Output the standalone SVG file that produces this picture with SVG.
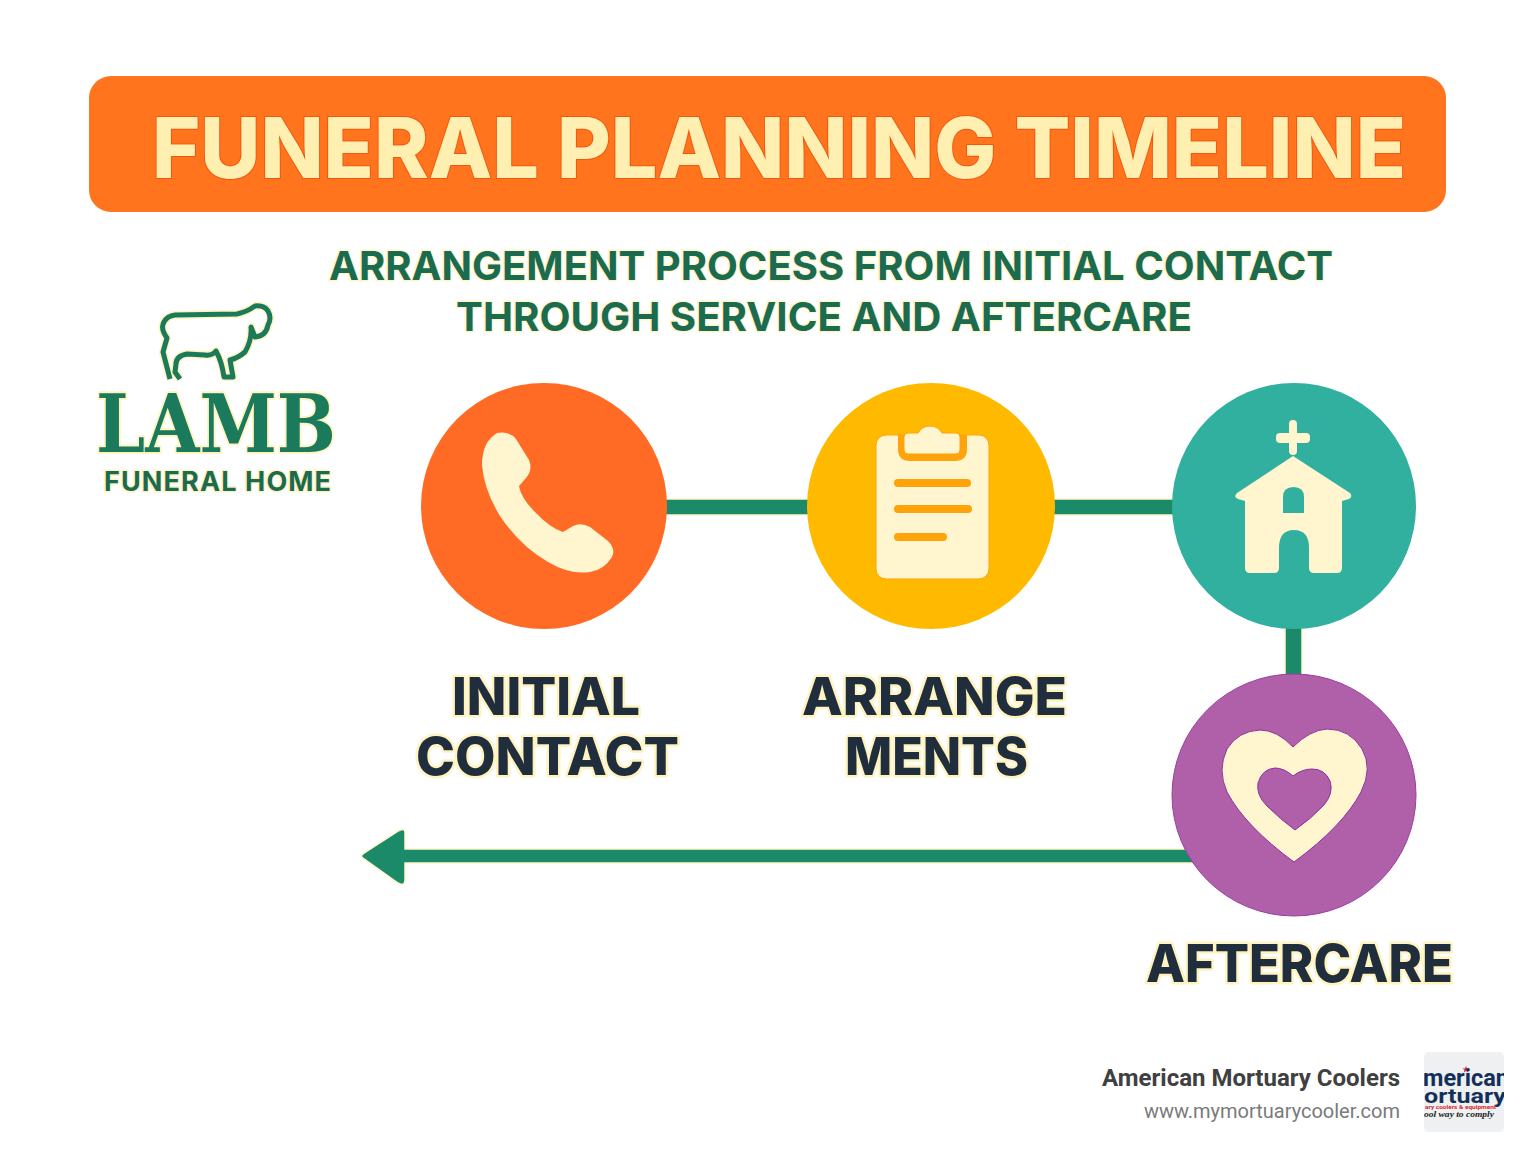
<svg xmlns="http://www.w3.org/2000/svg" width="1536" height="1154" viewBox="0 0 1536 1154">
<style>
text{paint-order:stroke fill;stroke-linejoin:round}
.title{font:800 84px Inter,"Noto Sans",sans-serif;fill:#FFEFB0;stroke:#F2560F;stroke-width:2}
.sub{font:700 40px Inter,"Noto Sans",sans-serif;fill:#1B6B50;stroke:#FFF6CC;stroke-width:3}
.label{font:800 52px Inter,"Noto Sans",sans-serif;fill:#1F2D3D;stroke:#FFF3BF;stroke-width:5}
.logo{fill:#1B7A5C;stroke:#FFF3BF;stroke-width:4}
.ic{fill:#FFF5CF}
.conn{fill:#1B8A68;stroke:#FFF6CC;stroke-width:1.5}
</style>
<defs><clipPath id="lc"><rect x="1424" y="1052" width="80" height="80" rx="5"/></clipPath></defs>
<g id="banner">
<rect x="89" y="76" width="1357" height="136" rx="22" fill="#FF741C"/>
<text class="title" x="152" y="178" textLength="1254" lengthAdjust="spacingAndGlyphs">FUNERAL PLANNING TIMELINE</text>
</g>
<g id="subtitle">
<text class="sub" x="329" y="280" textLength="1004" lengthAdjust="spacingAndGlyphs">ARRANGEMENT PROCESS FROM INITIAL CONTACT</text>
<text class="sub" x="456" y="331" textLength="736" lengthAdjust="spacingAndGlyphs">THROUGH SERVICE AND AFTERCARE</text>
</g>
<g id="logo">
<path d="M170 379L163 352Q165 345 167 338Q160 328 164 322Q167 316 175 315L237 314Q247 312 255 306Q264 305 268 311Q272 318 268 325Q266 336 255 337L251 327Q252 340 245 352Q238 358 230 360L233 377H224Q222 362 216 351Q212 356 205 355L187 354Q176 356 176 364L175 372L180 379" fill="none" stroke="#FFF3BF" stroke-width="8" stroke-linejoin="round"/>
<path d="M170 379L163 352Q165 345 167 338Q160 328 164 322Q167 316 175 315L237 314Q247 312 255 306Q264 305 268 311Q272 318 268 325Q266 336 255 337L251 327Q252 340 245 352Q238 358 230 360L233 377H224Q222 362 216 351Q212 356 205 355L187 354Q176 356 176 364L175 372L180 379" fill="none" stroke="#1B7A5C" stroke-width="5" stroke-linejoin="round"/>
<text class="logo" x="96" y="452" textLength="240" lengthAdjust="spacingAndGlyphs" style="font:700 81px 'DejaVu Serif',serif">LAMB</text>
<text class="logo" x="104" y="491" textLength="227" lengthAdjust="spacing" style="font:700 27px Inter,sans-serif;fill:#1B6B50;stroke-width:3">FUNERAL HOME</text>
</g>
<g id="connectors">
<rect class="conn" x="660" y="499" width="155" height="16"/>
<rect class="conn" x="1050" y="499" width="130" height="16"/>
<rect class="conn" x="1285" y="620" width="17" height="60"/>
<path class="conn" d="M1200 849H405V833Q405 827 398 831L364 853Q359 856 364 859L398 883Q405 887 405 880V863H1200Z"/>
</g>
<g id="node-initial-contact">
<circle cx="544" cy="506" r="123" fill="#FF6B24"/>
<path class="ic" d="M497 433Q510 431 516 439L529 460Q533 470 526 478L519 486Q521 498 535 512Q550 528 563 532L573 526Q581 522 590 527L608 541Q616 549 612 557Q604 570 590 572Q570 575 548 562Q520 546 500 516Q484 490 482 465Q482 442 497 433Z"/>
<text class="label" x="452" y="715" textLength="188" lengthAdjust="spacingAndGlyphs">INITIAL</text>
<text class="label" x="416" y="775" textLength="263" lengthAdjust="spacingAndGlyphs">CONTACT</text>
</g>
<g id="node-arrangements">
<ellipse cx="931" cy="506" rx="124" ry="123" fill="#FFBA00"/>
<rect class="ic" x="876" y="435" width="113" height="144" rx="10" stroke="#FFA30A" stroke-width="1"/>
<path d="M898 435H967V449Q967 461 955 461H910Q898 461 898 449Z" fill="#FFA30A"/>
<path class="ic" d="M908 433H918Q922 426 930 426Q938 426 942 433H956Q960 433 960 437V450Q960 454 956 454H908Q904 454 904 450V437Q904 433 908 433Z" stroke="#FFA30A" stroke-width="1"/>
<rect x="894" y="479" width="77" height="8" rx="4" fill="#FFA30A"/>
<rect x="894" y="505" width="78" height="8" rx="4" fill="#FFA30A"/>
<rect x="894" y="533" width="53" height="8" rx="4" fill="#FFA30A"/>
<text class="label" x="802" y="715" textLength="265" lengthAdjust="spacingAndGlyphs">ARRANGE</text>
<text class="label" x="845" y="775" textLength="183" lengthAdjust="spacingAndGlyphs">MENTS</text>
</g>
<g id="node-service">
<ellipse cx="1294" cy="506" rx="122" ry="123" fill="#31B0A0"/>
<rect class="ic" x="1289" y="420" width="8" height="35" rx="4"/>
<rect class="ic" x="1276" y="433" width="34" height="10" rx="4"/>
<path class="ic" d="M1293 456L1350 493Q1353 497 1349 499L1342 501V568Q1342 573 1337 573H1314Q1309 573 1309 568V548Q1309 530 1294 530Q1279 530 1279 548V568Q1279 573 1274 573H1250Q1245 573 1245 568V501L1238 499Q1233 497 1237 493Z"/>
<path d="M1283 513V497Q1283 487 1293.500 487Q1304 487 1304 497V513Z" fill="#31B0A0"/>
</g>
<g id="node-aftercare">
<ellipse cx="1294" cy="795" rx="122" ry="121" fill="#B060A8" stroke="#9A3FA0" stroke-width="1"/>
<path class="ic" fill-rule="evenodd" stroke="#8E2FA0" stroke-width="1" d="M1293 747Q1277 730 1260 730Q1238 731 1227 749Q1217 770 1227 792Q1245 826 1294 862Q1343 826 1361 792Q1373 768 1362 749Q1350 729 1327 729Q1310 730 1293 747ZM1293 776Q1284 768 1275 768Q1262 769 1258 783Q1256 795 1267 806Q1280 819 1295 830Q1312 818 1324 805Q1334 793 1330 781Q1325 769 1312 769Q1302 769 1293 776Z"/>
<text class="label" x="1146" y="982" textLength="307" lengthAdjust="spacingAndGlyphs">AFTERCARE</text>
</g>
<g id="footer">
<text x="1102" y="1086" textLength="298" lengthAdjust="spacingAndGlyphs" style="font:700 24px Roboto,sans-serif;fill:#404040">American Mortuary Coolers</text>
<text x="1400" y="1118" text-anchor="end" style="font:400 20px Roboto,sans-serif;fill:#7A7A7A">www.mymortuarycooler.com</text>
<rect x="1424" y="1052" width="80" height="80" rx="5" fill="#EEF0F1"/>
<g clip-path="url(#lc)">
<path d="M1466 1066l1 2.500h2.500l-2 1.500 .8 2.500-2.300-1.500-2.300 1.500 .8-2.500-2-1.500h2.500z" fill="#D8262C"/>
<text x="1423" y="1086" textLength="86" lengthAdjust="spacingAndGlyphs" style="font:700 23px Roboto,sans-serif;fill:#12305A">merican</text>
<text x="1424" y="1103" textLength="82" lengthAdjust="spacingAndGlyphs" style="font:700 21px Roboto,sans-serif;fill:#12305A">ortuary</text>
<text x="1425" y="1109" textLength="71" lengthAdjust="spacingAndGlyphs" style="font:700 6px Roboto,sans-serif;fill:#D8262C">ary coolers &amp; equipment</text>
<text x="1424" y="1117" textLength="70" lengthAdjust="spacingAndGlyphs" style="font:italic 700 8px 'Liberation Serif',serif;fill:#222">ool way to comply</text>
</g>
</g>
</svg>
